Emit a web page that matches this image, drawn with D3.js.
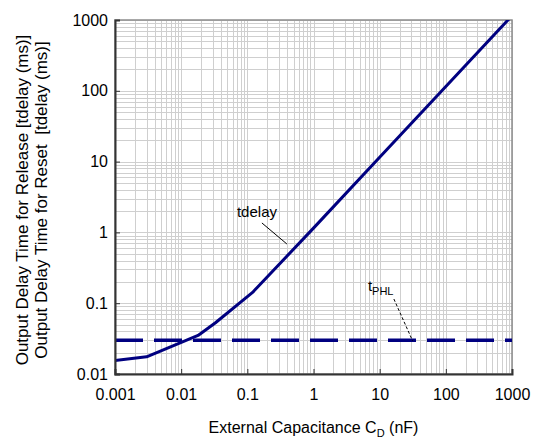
<!DOCTYPE html>
<html><head><meta charset="utf-8">
<script src="https://cdn.jsdelivr.net/npm/d3@7"></script>
<style>
html,body{margin:0;padding:0;background:#fff;}
svg{display:block;font-family:"Liberation Sans",Arial,sans-serif;}
</style></head>
<body>
<svg id="chart" width="540" height="440"></svg>
<script>
// ---- data ----
const capacitanceNF = [0.001, 0.003, 0.018, 0.033, 0.12, 1, 10, 100, 1000];
const tdelayMs      = [0.0155, 0.0175, 0.035, 0.053, 0.142, 1.15, 11.5, 115, 1150];
const tphlCap = [0.001, 1000];
const tphlMs  = [0.03, 0.03];
const xTicks = [0.001, 0.01, 0.1, 1, 10, 100, 1000];
const xTickLabels = ["0.001", "0.01", "0.1", "1", "10", "100", "1000"];
const yTicks = [0.01, 0.1, 1, 10, 100, 1000];
const yTickLabels = ["0.01", "0.1", "1", "10", "100", "1000"];
const xDomain = [0.001, 1000];
const yDomain = [0.01, 1000];
// annotation anchors (data space)
const tdelayLabel = {x: 0.0697, y: 1.67, text: "tdelay"};
const tdelayLeader = [[0.166, 1.36], [0.396, 0.686]];
const tphlLabel = {x: 6.64, y: 0.150};
const tphlLeader = [[16.4, 0.1146], [31.4, 0.0295]];

// ---- layout ----
const m = {left: 115, right: 512, top: 20, bottom: 374};
const svg = d3.select("#chart");
const x = d3.scaleLog().domain(xDomain).range([m.left, m.right]);
const y = d3.scaleLog().domain(yDomain).range([m.bottom, m.top]);
const navy = "#000080";

// grid
const grid = svg.append("g");
grid.selectAll("line.gx").data(x.ticks()).enter().append("line")
  .attr("x1", d => Math.round(x(d)) + 0.5).attr("x2", d => Math.round(x(d)) + 0.5)
  .attr("y1", m.top).attr("y2", m.bottom)
  .attr("stroke", "#cfcfcf").attr("stroke-width", 1);
grid.selectAll("line.gy").data(y.ticks()).enter().append("line")
  .attr("y1", d => Math.round(y(d)) + 0.5).attr("y2", d => Math.round(y(d)) + 0.5)
  .attr("x1", m.left).attr("x2", m.right)
  .attr("stroke", "#cfcfcf").attr("stroke-width", 1);

// frame (top/right)
svg.append("rect").attr("x", m.left).attr("y", m.top)
  .attr("width", m.right - m.left).attr("height", m.bottom - m.top)
  .attr("fill", "none").attr("stroke", "#8c8c8c").attr("stroke-width", 1.5);

// clip
svg.append("clipPath").attr("id", "clip").append("rect")
  .attr("x", m.left).attr("y", m.top).attr("width", m.right - m.left).attr("height", m.bottom - m.top);

// series
const line = d3.line().x(d => x(d[0])).y(d => y(d[1]));
svg.append("path").datum(tphlCap.map((c, i) => [c, tphlMs[i]]))
  .attr("clip-path", "url(#clip)")
  .attr("d", line).attr("fill", "none").attr("stroke", navy)
  .attr("stroke-width", 3.5).attr("stroke-dasharray", "28,11");
svg.append("path").datum(capacitanceNF.map((c, i) => [c, tdelayMs[i]]))
  .attr("clip-path", "url(#clip)")
  .attr("d", line).attr("fill", "none").attr("stroke", navy)
  .attr("stroke-width", 3).attr("stroke-linejoin", "round");

// axes
const ax = svg.append("g").attr("transform", `translate(0,${m.bottom})`)
  .call(d3.axisBottom(x).tickValues(xTicks).tickSize(-5).tickPadding(15)
    .tickFormat((d, i) => xTickLabels[i]));
const ay = svg.append("g").attr("transform", `translate(${m.left},0)`)
  .call(d3.axisLeft(y).tickValues(yTicks).tickSize(-5).tickPadding(7)
    .tickFormat((d, i) => yTickLabels[i]));
[ax, ay].forEach(g => {
  g.select(".domain").attr("stroke", "#333").attr("stroke-width", 2);
  g.selectAll(".tick line").attr("stroke", "#333");
  g.selectAll("text").attr("fill", "#000").style("font-size", "16px")
    .style("font-family", "'Liberation Sans',Arial,sans-serif");
});

// axis titles
const xt = svg.append("text").attr("x", (m.left + m.right) / 2).attr("y", 433)
  .attr("text-anchor", "middle").style("font-size", "16px");
xt.append("tspan").text("External Capacitance C");
xt.append("tspan").text("D").style("font-size", "11px").attr("dy", 4);
xt.append("tspan").text(" (nF)").attr("dy", -4);

const cy = (m.top + m.bottom) / 2 + 3;
const yt = svg.append("text").attr("transform", `translate(28,${cy}) rotate(-90)`)
  .attr("text-anchor", "middle").style("font-size", "17px");
yt.append("tspan").attr("x", 0).attr("dy", 0).text("Output Delay Time for Release [tdelay (ms)]");
yt.append("tspan").attr("x", 0).attr("dy", 19).text("Output Delay Time for Reset  [tdelay (ms)]").attr("xml:space", "preserve").style("white-space", "pre");

// annotations
svg.append("text").attr("x", x(tdelayLabel.x)).attr("y", y(tdelayLabel.y))
  .style("font-size", "15px").text(tdelayLabel.text);
svg.append("line")
  .attr("x1", x(tdelayLeader[0][0])).attr("y1", y(tdelayLeader[0][1]))
  .attr("x2", x(tdelayLeader[1][0])).attr("y2", y(tdelayLeader[1][1]))
  .attr("stroke", "#000").attr("stroke-width", 1);
const tp = svg.append("text").attr("x", x(tphlLabel.x)).attr("y", y(tphlLabel.y))
  .style("font-size", "15px");
tp.append("tspan").text("t");
tp.append("tspan").text("PHL").style("font-size", "11px").attr("dy", 4);
svg.append("line")
  .attr("x1", x(tphlLeader[0][0])).attr("y1", y(tphlLeader[0][1]))
  .attr("x2", x(tphlLeader[1][0])).attr("y2", y(tphlLeader[1][1]))
  .attr("stroke", "#000").attr("stroke-width", 1).attr("stroke-dasharray", "3,2");
</script>
</body></html>
